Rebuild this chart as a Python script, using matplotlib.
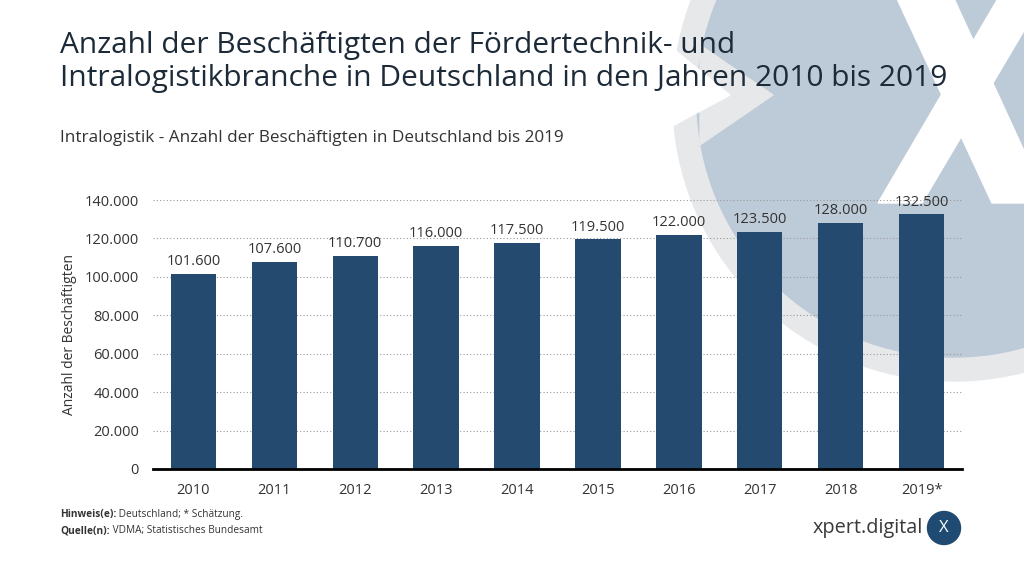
import matplotlib.pyplot as plt
import matplotlib.patches as mpatches

plt.rcParams['font.family'] = ['Open Sans', 'DejaVu Sans']

years = ["2010", "2011", "2012", "2013", "2014", "2015", "2016", "2017", "2018", "2019*"]
employees = [101600, 107600, 110700, 116000, 117500, 119500, 122000, 123500, 128000, 132500]
yticks = [0, 20000, 40000, 60000, 80000, 100000, 120000, 140000]

title = "Anzahl der Beschäftigten der Fördertechnik- und\nIntralogistikbranche in Deutschland in den Jahren 2010 bis 2019"
subtitle = "Intralogistik - Anzahl der Beschäftigten in Deutschland bis 2019"
ylabel = "Anzahl der Beschäftigten"

bar_color = "#244b6f"
text_color = "#333333"
W, H = 1024, 577


def de_num(v):
    return f"{v:,}".replace(",", ".")


fig = plt.figure(figsize=(W / 100, H / 100), dpi=100)

# background layer in pixel coordinates (decorative logo, titles, footer)
bg = fig.add_axes([0, 0, 1, 1], zorder=0)
bg.set_xlim(0, W)
bg.set_ylim(H, 0)
bg.axis("off")

ring_col = "#e7e8ea"
ring = mpatches.Circle((954, 100), 281, color=ring_col, zorder=1)
disk = mpatches.Circle((954, 100), 257, color="#bdcad7", zorder=2)
bg.add_patch(ring)
bg.add_patch(disk)
# V-shaped notch on the left of the logo
bg.add_patch(mpatches.Polygon([(700, 45), (773, 95), (700, 145)], closed=True, color=ring_col, zorder=2.5))
bg.add_patch(mpatches.Polygon([(650, 30), (730, 95), (650, 138)], closed=True, color="white", zorder=2.6))

# white X on the disk
arm1 = mpatches.Polygon([(893, -10), (950, -10), (1048, 203), (992, 203)],
                        closed=True, color="white", zorder=3)
arm2 = mpatches.Polygon([(1003, -10), (1048, -10), (922, 203), (878, 203)],
                        closed=True, color="white", zorder=3)
for arm in (arm1, arm2):
    bg.add_patch(arm)
    arm.set_clip_path(disk)

bg.text(60, 62, title, fontsize=21.5, color="#1d2a38", ha="left", va="center",
        linespacing=1.22, zorder=5)
bg.text(60, 138, subtitle, fontsize=12.3, color=text_color, ha="left", va="center", zorder=5)

fs_note = 7.3
h1 = bg.text(60, 515, "Hinweis(e):", fontsize=fs_note, fontweight="bold", color=text_color, va="center")
bg.annotate(" Deutschland; * Schätzung.", xy=(1, 0.5), xycoords=h1, fontsize=fs_note,
            color=text_color, va="center", ha="left")
q1 = bg.text(60, 531, "Quelle(n):", fontsize=fs_note, fontweight="bold", color=text_color, va="center")
bg.annotate(" VDMA; Statistisches Bundesamt", xy=(1, 0.5), xycoords=q1, fontsize=fs_note,
            color=text_color, va="center", ha="left")

bg.text(923, 528, "xpert.digital", fontsize=14.3, color="#3a3a3a", ha="right", va="center")
bg.add_patch(mpatches.Circle((944, 528), 16.5, color="#1f4a72", zorder=4))
bg.text(944, 528, "X", fontsize=12, color="white", ha="center", va="center", zorder=5)

# chart
ax = fig.add_axes([153 / W, (H - 469) / H, (962 - 153) / W, (469 - 200) / H], zorder=2)
ax.patch.set_alpha(0)
x = range(len(years))
ax.bar(x, employees, width=0.56, color=bar_color, zorder=3)
for xi, v in zip(x, employees):
    ax.text(xi, v + 2500, de_num(v), ha="center", va="bottom", fontsize=10.5, color=text_color)

ax.set_xlim(-0.5, len(years) - 0.5)
ax.set_ylim(0, 140000)
ax.set_yticks(yticks)
ax.set_yticklabels([de_num(t) for t in yticks])
ax.set_xticks(list(x))
ax.set_xticklabels(years)
ax.tick_params(axis="both", length=0, labelsize=10.5, labelcolor=text_color)
ax.tick_params(axis="y", pad=10)
ax.tick_params(axis="x", pad=10)
ax.yaxis.grid(True, color="#9a9a9a", linestyle=(0, (1, 2)), linewidth=0.8, zorder=0)
for s in ["top", "right", "left"]:
    ax.spines[s].set_visible(False)
ax.spines["bottom"].set_color("black")
ax.spines["bottom"].set_linewidth(2)
ax.spines["bottom"].set_zorder(4)
ax.set_ylabel(ylabel, fontsize=10, color=text_color, labelpad=6)

fig.savefig("out.png", dpi=100)
